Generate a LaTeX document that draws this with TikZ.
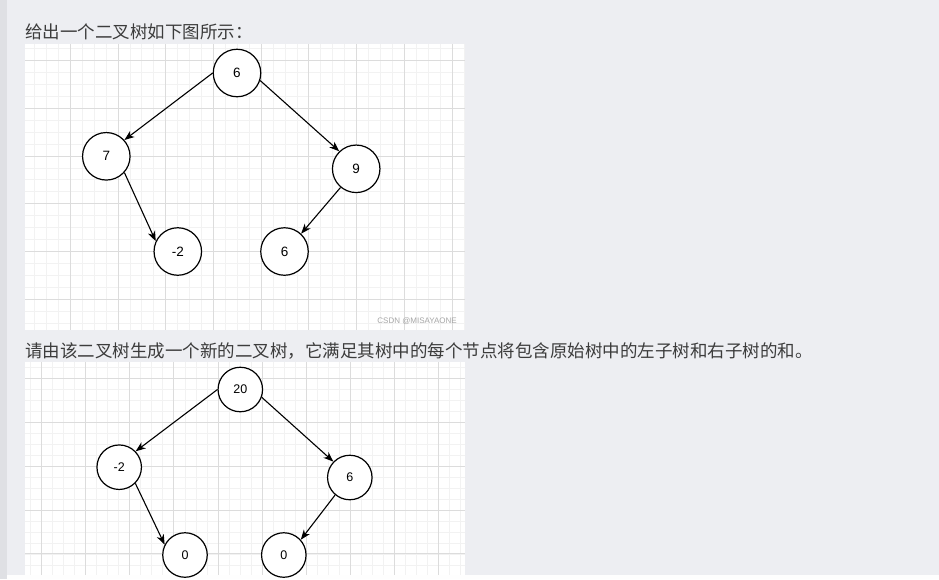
\documentclass[tikz,border=0pt]{standalone}
\usepackage{fontspec}
\setmainfont{Liberation Sans}
\newfontfamily\cjk{Noto Sans CJK SC}
\usetikzlibrary{arrows.meta}
\definecolor{pagebg}{HTML}{EDEEF2}
\definecolor{sidebar}{HTML}{DFE0E4}
\definecolor{minorc}{HTML}{F2F2F2}
\definecolor{majorc}{HTML}{DCDCDC}
\definecolor{txtc}{HTML}{3C3C3C}
\tikzset{
  treenode/.style={circle, draw=black, line width=1.2pt, fill=white, inner sep=0pt},
  bigtree/.style={treenode, minimum size=47.5pt, font=\fontsize{13.5}{15}\selectfont},
  smalltree/.style={treenode, minimum size=44.5pt, font=\fontsize{12.5}{14}\selectfont},
  edge/.style={line width=1.1pt, -{Stealth[length=10pt,width=7.5pt,inset=3pt]}},
  minorline/.style={draw=minorc, line width=0.9pt},
  majorline/.style={draw=majorc, line width=0.9pt},
  cjktext/.style={anchor=west, inner sep=0pt, text=txtc, font=\cjk\fontsize{17.5}{20}\selectfont},
}
\begin{document}
\begin{tikzpicture}[x=1pt,y=-1pt]
\useasboundingbox (0,0) rectangle (939,579);
\fill[pagebg] (0,0) rectangle (939,579);
\fill[sidebar] (0,0) rectangle (7,579);
% panel 1
\fill[white] (25,44) rectangle (465,330);
\begin{scope}
\clip (25,44) rectangle (465,330);
\foreach \i in {-4,...,33} {\draw[minorline] ({70.3+11.93*\i},44) -- ({70.3+11.93*\i},330);}
\foreach \i in {-2,...,23} {\draw[minorline] (25,{60.6+11.93*\i}) -- (465,{60.6+11.93*\i});}
\foreach \i in {-1,...,8} {\draw[majorline] ({70.3+47.72*\i},44) -- ({70.3+47.72*\i},330);}
\foreach \i in {0,...,6} {\draw[majorline] (25,{60.6+47.72*\i}) -- (465,{60.6+47.72*\i});}
\end{scope}
\node[anchor=east, inner sep=0pt, text=gray!70, font=\fontsize{8}{9}\selectfont] (wm) at (457,321) {CSDN @MISAYAONE};
% panel 2
\fill[white] (25,362) rectangle (465,575);
\begin{scope}
\clip (25,362) rectangle (465,575);
\foreach \i in {-2,...,40} {\draw[minorline] ({41.7+11.02*\i},362) -- ({41.7+11.02*\i},575);}
\foreach \i in {-2,...,20} {\draw[minorline] (25,{378.3+11.0*\i}) -- (465,{378.3+11.0*\i});}
\foreach \i in {0,...,10} {\draw[majorline] ({41.7+44.07*\i},362) -- ({41.7+44.07*\i},575);}
\foreach \i in {0,...,4} {\draw[majorline] (25,{378.3+43.9*\i}) -- (465,{378.3+43.9*\i});}
\end{scope}
\fill[white!96!pagebg] (7,575) rectangle (939,579);
% texts
\node[cjktext] (t1) at (25,32) {给出一个二叉树如下图所示：};
\node[cjktext] (t2) at (25,351) {请由该二叉树生成一个新的二叉树，它满足其树中的每个节点将包含原始树中的左子树和右子树的和。};
% tree 1
\node[bigtree] (a6) at (237,73) {6};
\node[bigtree] (a7) at (106.3,156.3) {7};
\node[bigtree] (a9) at (356.2,168.8) {9};
\node[bigtree] (am2) at (177.8,251.5) {-2};
\node[bigtree] (a6b) at (284.5,251.5) {6};
\draw[edge] (a6.180) -- (a7.42);
\draw[edge] (a6.-18) -- (a9.134);
\draw[edge] (a7.-42) -- (am2.155);
\draw[edge] (a9.-130) -- (a6b.47);
% tree 2
\node[smalltree] (b20) at (240.3,389.5) {20};
\node[smalltree] (bm2) at (119.2,467.2) {-2};
\node[smalltree] (b6) at (349.8,477.5) {6};
\node[smalltree] (b0l) at (185,555) {0};
\node[smalltree] (b0r) at (283.8,555) {0};
\draw[edge] (b20.180) -- (bm2.44);
\draw[edge] (b20.-20) -- (b6.136);
\draw[edge] (bm2.-45) -- (b0l.153);
\draw[edge] (b6.-130) -- (b0r.42);
\end{tikzpicture}
\end{document}
